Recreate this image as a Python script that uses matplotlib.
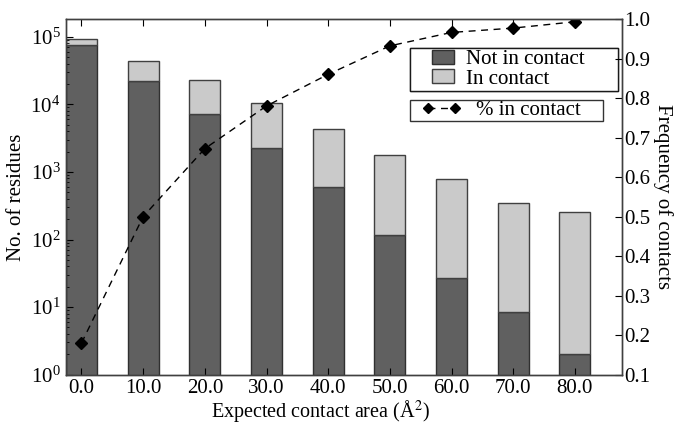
import matplotlib
matplotlib.use("Agg")
import matplotlib.pyplot as plt
from matplotlib.legend_handler import HandlerLine2D, HandlerPatch
import numpy as np

plt.rcParams['font.family'] = ['Liberation Serif', 'DejaVu Serif']
plt.rcParams['mathtext.fontset'] = 'stix'

areas = [0.0, 10.0, 20.0, 30.0, 40.0, 50.0, 60.0, 70.0, 80.0]
tick_labels = ["0.0", "10.0", "20.0", "30.0", "40.0", "50.0", "60.0", "70.0", "80.0"]
not_in_contact = [75300, 22100, 7260, 2230, 604, 117, 26.7, 8.4, 2.0]
in_contact = [17200, 21600, 15340, 8120, 3706, 1663, 758, 342, 251]
freq_contact = [0.18, 0.50, 0.672, 0.78, 0.86, 0.932, 0.966, 0.977, 0.993]

dark = '#606060'
light = '#cacaca'


class ShiftPatch(HandlerPatch):
    def __init__(self, shift, **kw):
        super().__init__(**kw)
        self.shift = shift

    def create_artists(self, legend, orig_handle, xdescent, ydescent, width,
                       height, fontsize, trans):
        return super().create_artists(legend, orig_handle, xdescent - self.shift,
                                      ydescent, width - self.shift, height,
                                      fontsize, trans)


class ShiftLine(HandlerLine2D):
    def __init__(self, shift, **kw):
        super().__init__(**kw)
        self.shift = shift

    def create_artists(self, legend, orig_handle, xdescent, ydescent, width,
                       height, fontsize, trans):
        return super().create_artists(legend, orig_handle, xdescent - self.shift,
                                      ydescent, width - self.shift, height,
                                      fontsize, trans)


fig = plt.figure(figsize=(6.81, 4.26), dpi=100)
ax = fig.add_axes([0.097, 0.1204, 0.816, 0.835])

b1 = ax.bar(areas, not_in_contact, width=5.0, color=dark, edgecolor='#303030',
            linewidth=1.0, label='Not in contact')
b2 = ax.bar(areas, in_contact, width=5.0, bottom=not_in_contact, color=light,
            edgecolor='#404040', linewidth=1.0, label='In contact')
ax.set_yscale('log')
ax.set_ylim(1, 1.83e5)
ax.set_xlim(-2.5, 87.6)
ax.set_xticks(areas)
ax.set_xticklabels(tick_labels)
ax.tick_params(axis='both', which='both', direction='in', labelsize=15,
               top=True, right=False)
ax.tick_params(axis='x', which='major', length=5, pad=3)
ax.tick_params(axis='y', which='major', length=5, pad=4)
ax.tick_params(axis='y', which='minor', length=2.5)
ax.set_xlabel('Expected contact area (Å$^2$)', fontsize=14.5, labelpad=0)
ax.xaxis.set_label_coords(0.457, -0.068)
ax.set_ylabel('No. of residues', fontsize=15, labelpad=3)

ax2 = ax.twinx()
line, = ax2.plot(areas, freq_contact, linestyle='--', color='black', linewidth=1.0,
                 marker='D', markersize=6, markerfacecolor='black',
                 markeredgecolor='black', label='% in contact', dashes=(5, 4))
ax2.set_ylim(0.1, 1.0)
ax2.set_yticks(np.arange(0.1, 1.01, 0.1))
ax2.set_yticklabels([f"{v:.1f}" for v in np.arange(0.1, 1.01, 0.1)])
ax2.tick_params(axis='y', direction='in', labelsize=15, length=5, pad=2)
ax2.set_ylabel('Frequency of contacts', fontsize=15, rotation=270, labelpad=16)

for a in (ax, ax2):
    for s in a.spines.values():
        s.set_color('#404040')
        s.set_linewidth(1.0)

h1 = b1.patches[0]
h2 = b2.patches[0]
leg1 = ax.legend(handles=[h1, h2], labels=['Not in contact', 'In contact'],
                 loc='upper left',
                 bbox_to_anchor=(0.619, 0, 0.374, 0.9185), mode='expand',
                 fontsize=15, frameon=True, fancybox=False, borderpad=0.1,
                 labelspacing=0.0, handlelength=2.02, handleheight=0.65,
                 handletextpad=0.58, borderaxespad=0,
                 handler_map={h1: ShiftPatch(14), h2: ShiftPatch(14)})
leg1.get_frame().set_edgecolor('black')
leg1.get_frame().set_linewidth(1.0)
ax.add_artist(leg1)

leg2 = ax2.legend(handles=[line], loc='upper left',
                  bbox_to_anchor=(0.619, 0, 0.347, 0.772), mode='expand',
                  fontsize=15, frameon=True, fancybox=False, borderpad=0.03,
                  numpoints=2, handlelength=2.45, handletextpad=0.67,
                  borderaxespad=0, markerscale=0.8,
                  handler_map={line: ShiftLine(8)})
leg2.get_frame().set_edgecolor('black')
leg2.get_frame().set_linewidth(1.0)

fig.savefig('out.png', dpi=100)
